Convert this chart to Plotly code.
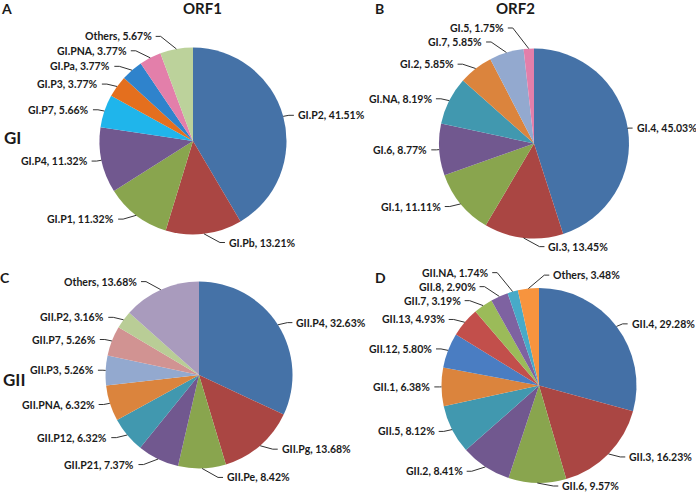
import math
import plotly.graph_objects as go

# ---------------- data ----------------
A_labels = ["GI.P2", "GI.Pb", "GI.P1", "GI.P4", "GI.P7", "GI.P3", "GI.Pa", "GI.PNA", "Others"]
A_values = [41.51, 13.21, 11.32, 11.32, 5.66, 3.77, 3.77, 3.77, 5.67]

B_labels = ["GI.4", "GI.3", "GI.1", "GI.6", "GI.NA", "GI.2", "GI.7", "GI.5"]
B_values = [45.03, 13.45, 11.11, 8.77, 8.19, 5.85, 5.85, 1.75]

C_labels = ["GII.P4", "GII.Pg", "GII.Pe", "GII.P21", "GII.P12", "GII.PNA", "GII.P3",
            "GII.P7", "GII.P2", "Others"]
C_values = [32.63, 13.68, 8.42, 7.37, 6.32, 6.32, 5.26, 5.26, 3.16, 13.68]

D_labels = ["GII.4", "GII.3", "GII.6", "GII.2", "GII.5", "GII.1", "GII.12", "GII.13",
            "GII.7", "GII.8", "GII.NA", "Others"]
D_values = [29.28, 16.23, 9.57, 8.41, 8.12, 6.38, 5.80, 4.93, 3.19, 2.90, 1.74, 3.48]

column_titles = ["ORF1", "ORF2"]
row_titles = ["GI", "GII"]
panel_letters = ["A", "B", "C", "D"]

# ---------------- styles ----------------
A_colors = ["#4572A7", "#AA4643", "#89A54E", "#71588F", "#1FB5EB", "#E46F1E", "#2F83CC",
            "#E37FAA", "#BCD29B"]
B_colors = ["#4572A7", "#AA4643", "#89A54E", "#71588F", "#4198AF", "#DB843D", "#93A9CF",
            "#E37FAA"]
C_colors = ["#4572A7", "#AA4643", "#89A54E", "#71588F", "#4198AF", "#DB843D", "#93A9CF",
            "#D19392", "#B9CD96", "#A99BBD"]
D_colors = ["#4470A6", "#AA4643", "#89A54E", "#71588F", "#4198AF", "#DB843D", "#4A7DC2",
            "#C24F4B", "#9BBB59", "#7E62A1", "#47AAC8", "#F7943E"]

W, H = 696, 500
FONT = "Lato"
TXT = "#1a1a1a"
LABEL_SIZE = 10.5
CHAR_W = 4.95  # approx. px per character of the label font

# pie geometry in pixels: (cx, cy, r)
geom = {
    "A": (193, 141, 93.5),
    "B": (534, 143.5, 95),
    "C": (199, 375, 93.5),
    "D": (539, 385.5, 97.5),
}
side_override = {"D": {"Others": "right"}}

panels = [
    ("A", A_labels, A_values, A_colors),
    ("B", B_labels, B_values, B_colors),
    ("C", C_labels, C_values, C_colors),
    ("D", D_labels, D_values, D_colors),
]


def px(x):
    return x / W


def py(y):
    return 1 - y / H


fig = go.Figure()
annotations = []
shapes = []

for key, labels, values, colors in panels:
    cx, cy, r = geom[key]
    fig.add_trace(go.Pie(
        labels=labels, values=values, sort=False, direction="clockwise", rotation=0,
        marker=dict(colors=colors, line=dict(width=0)),
        textinfo="none", showlegend=False,
        domain=dict(x=[px(cx - r), px(cx + r)], y=[py(cy + r), py(cy - r)]),
    ))

    total = sum(values)
    cum = 0.0
    items = []
    for lab, v in zip(labels, values):
        ang = (cum + v / 2) / total * 2 * math.pi
        cum += v
        s, c = math.sin(ang), math.cos(ang)
        ex, ey = cx + r * s, cy - r * c
        d = 4 + (10 * c ** 8 if c > 0 else 5 * c ** 8)
        ly = cy - (r + d) * c
        side = "right" if s > 0 else "left"
        if c < 0 and s > -0.2:
            side = "right"
        side = side_override.get(key, {}).get(lab, side)
        gap = 9 + 14 * abs(c)
        text = f"{lab}, {v:.2f}%"
        if side == "right":
            lx = min(ex + gap, W - len(text) * CHAR_W - 2)
        else:
            lx = max(ex - gap, len(text) * CHAR_W + 2)
        items.append(dict(text=text, ex=ex, ey=ey, lx=lx, ly=ly, side=side))

    for side in ("left", "right"):
        its = sorted([i for i in items if i["side"] == side], key=lambda i: i["ly"])
        for it in its:
            it["ly"] = min(it["ly"], H - 14)
        for k in range(len(its) - 2, -1, -1):
            its[k]["ly"] = min(its[k]["ly"], its[k + 1]["ly"] - 14)

    for it in items:
        sgn = 1 if it["side"] == "right" else -1
        annotations.append(dict(
            x=px(it["lx"]), y=py(it["ly"]), xref="paper", yref="paper",
            text=it["text"], showarrow=False,
            xanchor="left" if sgn > 0 else "right", yanchor="middle",
            font=dict(family=FONT, size=LABEL_SIZE, color=TXT, weight="bold"),
        ))
        x0 = it["lx"] - 2 * sgn
        x1 = it["lx"] - 7 * sgn
        shapes.append(dict(type="line", xref="paper", yref="paper",
                           x0=px(x0), y0=py(it["ly"]), x1=px(x1), y1=py(it["ly"]),
                           line=dict(color="#333333", width=1)))
        shapes.append(dict(type="line", xref="paper", yref="paper",
                           x0=px(x1), y0=py(it["ly"]), x1=px(it["ex"]), y1=py(it["ey"]),
                           line=dict(color="#333333", width=1)))

# titles and panel letters
for t, x in zip(column_titles, [202, 515]):
    annotations.append(dict(x=px(x), y=py(8), xref="paper", yref="paper", text=t,
                            showarrow=False, xanchor="center", yanchor="middle",
                            font=dict(family=FONT, size=15, color=TXT, weight="bold")))
for t, (x, y) in zip(row_titles, [(2, 137), (1, 379)]):
    annotations.append(dict(x=px(x), y=py(y), xref="paper", yref="paper", text=t,
                            showarrow=False, xanchor="left", yanchor="middle",
                            font=dict(family=FONT, size=17, color=TXT, weight="bold")))
for t, (x, y) in zip(panel_letters, [(6, 8), (379, 8), (5, 277), (380, 277)]):
    annotations.append(dict(x=px(x), y=py(y), xref="paper", yref="paper", text=t,
                            showarrow=False, xanchor="center", yanchor="middle",
                            font=dict(family=FONT, size=14, color=TXT, weight="bold")))

fig.update_layout(
    width=W, height=H, margin=dict(l=0, r=0, t=0, b=0),
    paper_bgcolor="white", plot_bgcolor="white",
    annotations=annotations, shapes=shapes,
)

fig.write_html(
    "out.html",
    config={"displayModeBar": False},
    post_script="document.body.style.margin='0';document.body.style.padding='0';",
)
